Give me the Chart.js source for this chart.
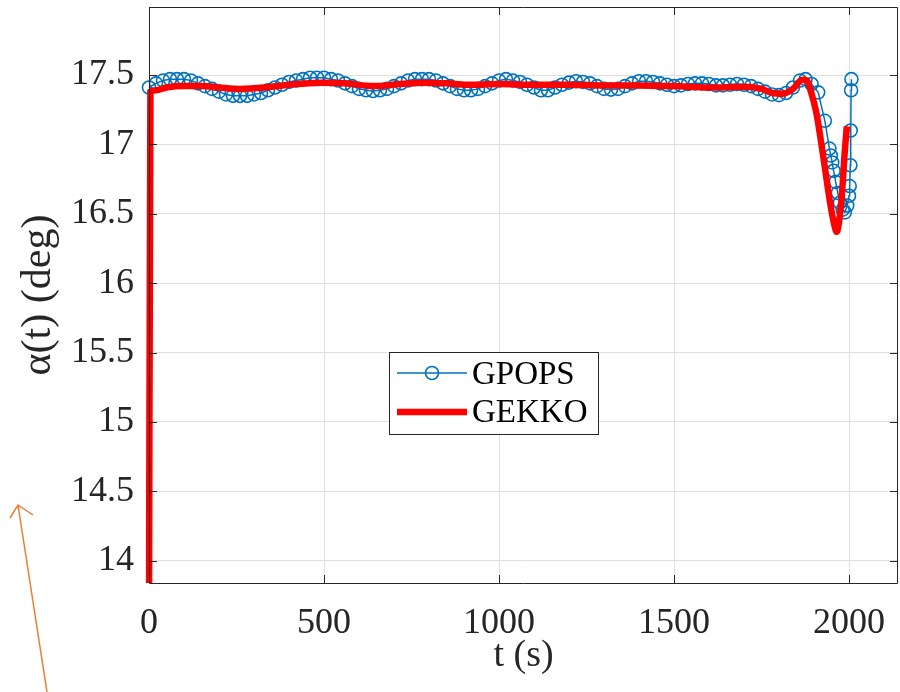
<!DOCTYPE html>
<html>
<head>
<meta charset="utf-8">
<script src="https://cdn.jsdelivr.net/npm/chart.js@4.4.1/dist/chart.umd.min.js"></script>
<style>
html,body{margin:0;padding:0;background:#ffffff;}
#wrap{width:900px;height:692px;position:relative;}
</style>
</head>
<body>
<div id="wrap"><canvas id="c" width="900" height="692"></canvas></div>
<script>
// ---- data ----
const gpopsT = [0,20,40,60,80,100,120,140,160,180,200,220,240,260,280,300,320,340,360,380,
  400,420,440,460,480,500,520,540,560,580,600,620,640,660,680,700,720,740,760,780,
  800,820,840,860,880,900,920,940,960,980,1000,1020,1040,1060,1080,1100,1120,1140,1160,1180,
  1200,1220,1240,1260,1280,1300,1320,1340,1360,1380,1400,1420,1440,1460,1480,1500,1520,1540,1560,1580,
  1600,1620,1640,1660,1680,1700,1720,1740,1760,1780,1800,1820,1840,1860,
  1876,1893,1912,1931,1944,1948,1952,1956,1962,1968,1974,1982,1988,1995,2000,2002,2004,2005,2006,2007];
const gpopsAlpha = [17.41,17.44,17.46,17.47,17.47,17.47,17.46,17.44,17.42,17.40,17.38,17.36,17.35,17.35,17.35,17.36,17.37,17.39,17.41,17.43,
  17.45,17.46,17.47,17.48,17.48,17.48,17.47,17.46,17.44,17.42,17.40,17.39,17.385,17.39,17.40,17.42,17.44,17.46,17.47,17.47,
  17.47,17.46,17.44,17.42,17.40,17.39,17.39,17.40,17.42,17.44,17.46,17.47,17.46,17.45,17.43,17.41,17.39,17.39,17.41,17.43,
  17.445,17.455,17.45,17.44,17.42,17.40,17.395,17.40,17.42,17.44,17.455,17.455,17.45,17.44,17.43,17.42,17.425,17.435,17.44,17.44,
  17.435,17.425,17.425,17.43,17.435,17.43,17.42,17.40,17.38,17.36,17.355,17.37,17.41,17.46,
  17.47,17.435,17.375,17.17,16.97,16.92,16.87,16.81,16.73,16.65,16.58,16.53,16.51,16.56,16.63,16.70,16.85,17.10,17.39,17.47];

const gekkoT = [0,4,20,50,100,150,200,260,330,400,489,560,640,720,783,850,908,1000,1100,1200,
  1300,1400,1500,1600,1700,1750,1780,1810,1840,1866,1880,1889,1900,1908,1926,1946,1958,1965,1972,1980,1988,1994];
const gekkoAlpha = [13.5,17.38,17.39,17.41,17.42,17.42,17.41,17.40,17.41,17.43,17.445,17.44,17.42,17.435,17.445,17.44,17.43,17.435,17.43,17.43,
  17.425,17.425,17.42,17.41,17.415,17.40,17.37,17.365,17.40,17.465,17.46,17.40,17.30,17.21,16.92,16.58,16.42,16.37,16.45,16.65,16.95,17.13];

const seriesNames = ['GPOPS', 'GEKKO'];
const xTicks = [0, 500, 1000, 1500, 2000];
const yTicks = [14, 14.5, 15, 15.5, 16, 16.5, 17, 17.5];
const xTitle = 't (s)';
const yTitle = 'α(t) (deg)';

const BLUE = '#0072BD';
const RED = '#FF0000';
const AXIS = '#262626';
const SERIF = '"Liberation Serif", "Times New Roman", serif';

const toPts = (xs, ys) => xs.map((x, i) => ({x: x, y: ys[i]}));

// box with inward tick marks (MATLAB style), legend and annotation arrow
const boxPlugin = {
  id: 'box',
  afterDatasetsDraw(chart) {
    const {ctx, chartArea: a, scales} = chart;
    ctx.save();
    ctx.strokeStyle = AXIS;
    ctx.lineWidth = 1;
    ctx.beginPath();
    ctx.rect(Math.round(a.left) + 0.5, Math.round(a.top) + 0.5, Math.round(a.right - a.left) - 1, Math.round(a.bottom - a.top));
    ctx.stroke();
    const tl = 8;
    ctx.beginPath();
    xTicks.forEach(v => {
      const px = Math.round(scales.x.getPixelForValue(v)) + 0.5;
      ctx.moveTo(px, a.bottom); ctx.lineTo(px, a.bottom - tl);
      ctx.moveTo(px, a.top); ctx.lineTo(px, a.top + tl);
    });
    yTicks.forEach(v => {
      const py = Math.round(scales.y.getPixelForValue(v)) + 0.5;
      ctx.moveTo(a.left, py); ctx.lineTo(a.left + tl, py);
      ctx.moveTo(a.right, py); ctx.lineTo(a.right - tl, py);
    });
    ctx.stroke();
    ctx.restore();
  },
  afterDraw(chart) {
    const {ctx} = chart;
    const ds = chart.data.datasets;
    ctx.save();
    // legend box
    const bx = 389, by = 352, bw = 209, bh = 82;
    ctx.fillStyle = '#ffffff';
    ctx.fillRect(bx, by, bw, bh);
    ctx.strokeStyle = AXIS;
    ctx.lineWidth = 1;
    ctx.strokeRect(bx + 0.5, by + 0.5, bw, bh);
    // GPOPS entry
    ctx.strokeStyle = ds[1].borderColor;
    ctx.lineWidth = 1.5;
    ctx.beginPath(); ctx.moveTo(397, 373); ctx.lineTo(467, 373); ctx.stroke();
    ctx.lineWidth = 1.6;
    ctx.beginPath(); ctx.arc(432, 373, 6.5, 0, Math.PI * 2); ctx.stroke();
    // GEKKO entry
    ctx.strokeStyle = ds[0].borderColor;
    ctx.lineWidth = 6.5;
    ctx.beginPath(); ctx.moveTo(397, 412); ctx.lineTo(467, 412); ctx.stroke();
    ctx.fillStyle = '#000000';
    ctx.font = '33px ' + SERIF;
    ctx.textBaseline = 'middle';
    ctx.textAlign = 'left';
    ctx.fillText(ds[1].label, 472, 375);
    ctx.fillText(ds[0].label, 472, 413);
    // orange annotation arrow
    ctx.strokeStyle = '#ED7D31';
    ctx.lineWidth = 1.5;
    ctx.beginPath();
    ctx.moveTo(47, 692); ctx.lineTo(18, 505);
    ctx.moveTo(10, 518); ctx.lineTo(18, 505); ctx.lineTo(33, 515);
    ctx.stroke();
    ctx.restore();
  }
};

new Chart(document.getElementById('c'), {
  type: 'scatter',
  data: {
    datasets: [
      {
        label: seriesNames[1],
        data: toPts(gekkoT, gekkoAlpha),
        showLine: true,
        borderColor: RED,
        backgroundColor: RED,
        borderWidth: 6.5,
        pointRadius: 0,
        cubicInterpolationMode: 'monotone',
        clip: {left: 4, top: 0, right: 0, bottom: 0},
        order: 1
      },
      {
        label: seriesNames[0],
        data: toPts(gpopsT, gpopsAlpha),
        showLine: true,
        borderColor: BLUE,
        backgroundColor: 'rgba(0,0,0,0)',
        borderWidth: 1.5,
        pointStyle: 'circle',
        pointRadius: 6.5,
        pointBorderWidth: 1.6,
        pointBorderColor: BLUE,
        pointBackgroundColor: 'rgba(0,0,0,0)',
        tension: 0,
        clip: false,
        order: 2
      }
    ]
  },
  options: {
    responsive: false,
    animation: false,
    devicePixelRatio: 1,
    layout: {autoPadding: false, padding: {left: 0, top: 7, right: 2, bottom: 0}},
    plugins: {legend: {display: false}, tooltip: {enabled: false}},
    scales: {
      x: {
        type: 'linear',
        min: 0, max: 2140,
        afterBuildTicks: s => { s.ticks = xTicks.map(v => ({value: v})); },
        afterFit: s => { s.height = 109; s.paddingLeft = 0; s.paddingRight = 0; s.paddingTop = 0; s.paddingBottom = 0; },
        grid: {color: '#dfdfdf', lineWidth: 1, drawTicks: false},
        border: {display: false},
        ticks: {color: AXIS, padding: 19, font: {family: SERIF, size: 36}, maxRotation: 0, callback: v => String(v)},
        title: {display: true, text: xTitle, color: AXIS, font: {family: SERIF, size: 38}, padding: {top: 0, bottom: 13}}
      },
      y: {
        type: 'linear',
        min: 13.84, max: 17.99,
        afterBuildTicks: s => { s.ticks = yTicks.map(v => ({value: v})); },
        afterFit: s => { s.width = 149; s.paddingLeft = 0; s.paddingRight = 0; s.paddingTop = 0; s.paddingBottom = 0; },
        grid: {color: '#dfdfdf', lineWidth: 1, drawTicks: false},
        border: {display: false},
        ticks: {color: AXIS, padding: 15, font: {family: SERIF, size: 36}, callback: v => String(v)},
        title: {display: true, text: yTitle, color: AXIS, font: {family: SERIF, size: 42}, padding: {top: 14, bottom: 0}}
      }
    }
  },
  plugins: [boxPlugin]
});
</script>
</body>
</html>
